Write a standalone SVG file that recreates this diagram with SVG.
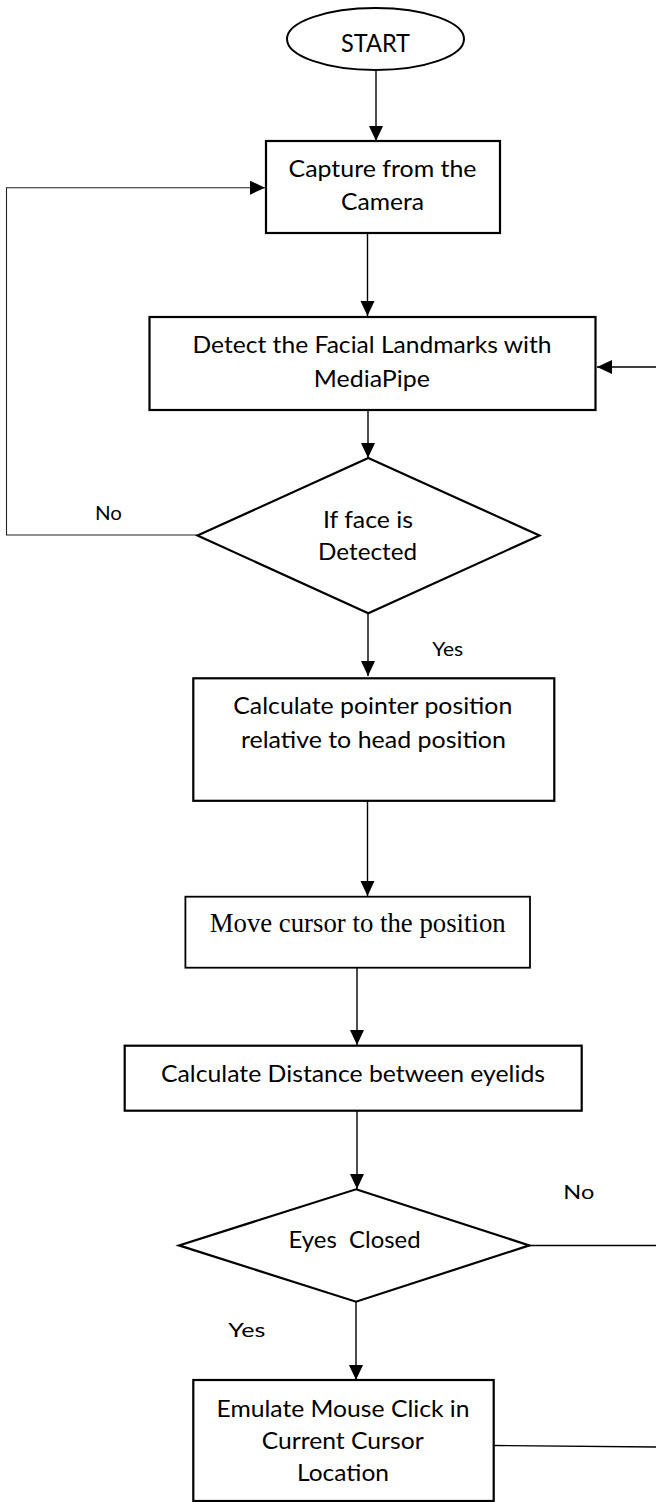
<svg xmlns="http://www.w3.org/2000/svg" width="656" height="1502" viewBox="0 0 656 1502">
<defs>
<marker id="ah" markerUnits="userSpaceOnUse" markerWidth="16" markerHeight="15" refX="15" refY="7" orient="auto">
<path d="M0,0 L15,7 L0,14 z" fill="#000"/>
</marker>
<style>
.box{fill:#fff;stroke:#000;stroke-width:2.2}
.dia{fill:#fff;stroke:#000;stroke-width:2.2}
.t{font-family:"Lato","Open Sans","Liberation Sans",sans-serif;font-size:24px;fill:#000;text-anchor:middle}
.lbl{font-family:"Lato","Open Sans","Liberation Sans",sans-serif;font-size:19px;fill:#000;text-anchor:middle}
.serif{font-family:"Liberation Serif","Times New Roman",serif;font-size:26.6px;fill:#000;text-anchor:middle}
.c{fill:none;stroke:#000;stroke-width:1.4}
.thin{fill:none;stroke:#222;stroke-width:1.1}
</style>
</defs>
<rect width="656" height="1502" fill="#fff"/>
<g id="connectors">
<line class="c" x1="376" y1="70" x2="376" y2="141" marker-end="url(#ah)"/>
<line class="c" x1="367.5" y1="233" x2="367.5" y2="316" marker-end="url(#ah)"/>
<line class="c" x1="368" y1="410" x2="368" y2="458" marker-end="url(#ah)"/>
<line class="c" x1="368" y1="613" x2="368" y2="676" marker-end="url(#ah)"/>
<line class="c" x1="367.5" y1="801" x2="367.5" y2="896" marker-end="url(#ah)"/>
<line class="c" x1="357" y1="968" x2="357" y2="1045" marker-end="url(#ah)"/>
<line class="c" x1="357" y1="1111" x2="357" y2="1189" marker-end="url(#ah)"/>
<line class="c" x1="356" y1="1302" x2="356" y2="1380" marker-end="url(#ah)"/>
<polyline class="thin" points="197.5,535 6.5,535 6.5,187.7 265,187.7" marker-end="url(#ah)"/>
<line class="c" x1="656" y1="367" x2="597" y2="367" marker-end="url(#ah)"/>
<line class="c" x1="529" y1="1245.5" x2="656" y2="1245.5"/>
<line class="c" x1="494" y1="1445.5" x2="656" y2="1447"/>
<text class="lbl" x="108.5" y="520" textLength="27" lengthAdjust="spacingAndGlyphs">No</text>
<text class="lbl" x="447.7" y="655.7" textLength="31" lengthAdjust="spacingAndGlyphs">Yes</text>
<text class="lbl" x="578.8" y="1199" textLength="31" lengthAdjust="spacingAndGlyphs">No</text>
<text class="lbl" x="246.8" y="1337.3" textLength="37" lengthAdjust="spacingAndGlyphs">Yes</text>
</g>
<g id="start">
<ellipse cx="375.5" cy="39" rx="88.5" ry="31" fill="#fff" stroke="#000" stroke-width="2"/>
<text class="t" x="375.5" y="51.7" style="font-size:25px" textLength="69" lengthAdjust="spacingAndGlyphs">START</text>
</g>
<g id="capture">
<rect class="box" x="266" y="141" width="234" height="92"/>
<text class="t" x="382.5" y="176.7" textLength="188" lengthAdjust="spacingAndGlyphs">Capture from the</text>
<text class="t" x="382.5" y="210" textLength="83" lengthAdjust="spacingAndGlyphs">Camera</text>
</g>
<g id="detect">
<rect class="box" x="149.5" y="317" width="446" height="93"/>
<text class="t" x="372" y="353" textLength="359" lengthAdjust="spacingAndGlyphs">Detect the Facial Landmarks with</text>
<text class="t" x="371.8" y="386.7" textLength="116" lengthAdjust="spacingAndGlyphs">MediaPipe</text>
</g>
<g id="face-detected">
<polygon class="dia" points="368.3,458 539.5,535.5 368.3,613.3 197.5,535.5"/>
<text class="t" x="368" y="527.7" textLength="90" lengthAdjust="spacingAndGlyphs">If face is</text>
<text class="t" x="367.6" y="560" textLength="99" lengthAdjust="spacingAndGlyphs">Detected</text>
</g>
<g id="calc-pointer">
<rect class="box" x="193.3" y="678.3" width="361" height="122.5"/>
<text class="t" x="372.8" y="714" textLength="279" lengthAdjust="spacingAndGlyphs">Calculate pointer position</text>
<text class="t" x="373.4" y="747.7" textLength="265" lengthAdjust="spacingAndGlyphs">relative to head position</text>
</g>
<g id="move-cursor">
<rect class="box" x="185.4" y="896.7" width="344.6" height="71" style="stroke-width:1.8"/>
<text class="serif" x="357.7" y="931.7" textLength="296" lengthAdjust="spacingAndGlyphs">Move cursor to the position</text>
</g>
<g id="calc-distance">
<rect class="box" x="124.7" y="1045.7" width="457" height="65"/>
<text class="t" x="353" y="1081.7" textLength="384" lengthAdjust="spacingAndGlyphs">Calculate Distance between eyelids</text>
</g>
<g id="eyes-closed">
<polygon class="dia" points="356,1189.3 529.3,1245.4 356,1301.7 179,1245.4"/>
<text class="t" x="354.6" y="1247.5" textLength="132" lengthAdjust="spacingAndGlyphs" xml:space="preserve">Eyes  Closed</text>
</g>
<g id="emulate-click">
<rect class="box" x="193.3" y="1380" width="300.4" height="121"/>
<text class="t" x="343" y="1416.7" textLength="253" lengthAdjust="spacingAndGlyphs">Emulate Mouse Click in</text>
<text class="t" x="342.7" y="1449" textLength="162" lengthAdjust="spacingAndGlyphs">Current Cursor</text>
<text class="t" x="343" y="1481" textLength="92" lengthAdjust="spacingAndGlyphs">Location</text>
</g>
</svg>
